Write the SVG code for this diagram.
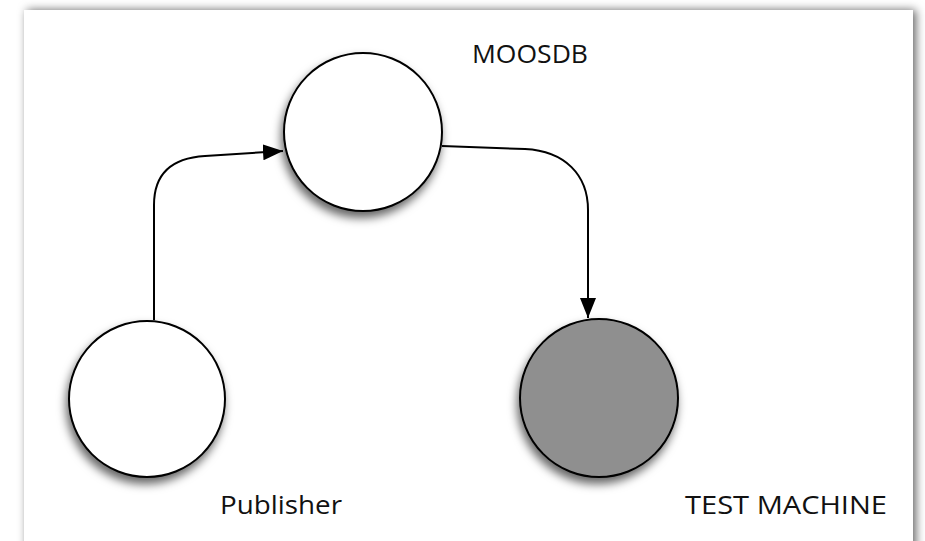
<svg xmlns="http://www.w3.org/2000/svg" width="925" height="541" viewBox="0 0 925 541">
  <defs>
    <filter id="frameShadow" x="-5%" y="-5%" width="110%" height="110%">
      <feDropShadow dx="3" dy="0" stdDeviation="5" flood-color="#000" flood-opacity="0.6"/>
    </filter>
    <filter id="nodeShadow" x="-20%" y="-20%" width="140%" height="140%">
      <feDropShadow dx="-2" dy="6" stdDeviation="5" flood-color="#000" flood-opacity="0.6"/>
    </filter>
    <marker id="arrow" viewBox="0 0 20 16" refX="20" refY="8" markerWidth="20" markerHeight="16" markerUnits="userSpaceOnUse" orient="auto">
      <path d="M0,0 L20,8 L0,16 Z" fill="#000"/>
    </marker>
  </defs>
  <style>
    .node { stroke: #000; stroke-width: 2; filter: url(#nodeShadow); }
    .label { font-family: "Open Sans", "DejaVu Sans", sans-serif; font-size: 26px; fill: #111; }
    .edge { fill: none; stroke: #000; stroke-width: 2; marker-end: url(#arrow); }
  </style>
  <rect x="0" y="0" width="925" height="541" fill="#fff"/>
  <rect x="24" y="10" width="889" height="545" fill="#fff" filter="url(#frameShadow)"/>

  <g id="connectors">
    <path class="edge" d="M154,320 L154,205 C154,175 170,158 205,156 L283,151"/>
    <path class="edge" d="M442,146 L525,149 C565,151 588,175 588,210 L588,318"/>
  </g>

  <g id="moosdb">
    <circle class="node" cx="363" cy="132" r="79" fill="#fff"/>
    <text class="label" x="472" y="63" textLength="116" lengthAdjust="spacingAndGlyphs">MOOSDB</text>
  </g>
  <g id="publisher">
    <circle class="node" cx="147" cy="399" r="78" fill="#fff"/>
    <text class="label" x="220" y="514" textLength="122" lengthAdjust="spacingAndGlyphs">Publisher</text>
  </g>
  <g id="test-machine">
    <circle class="node" cx="599" cy="398" r="79" fill="#8f8f8f"/>
    <text class="label" x="685" y="514" textLength="202" lengthAdjust="spacingAndGlyphs">TEST MACHINE</text>
  </g>
</svg>
